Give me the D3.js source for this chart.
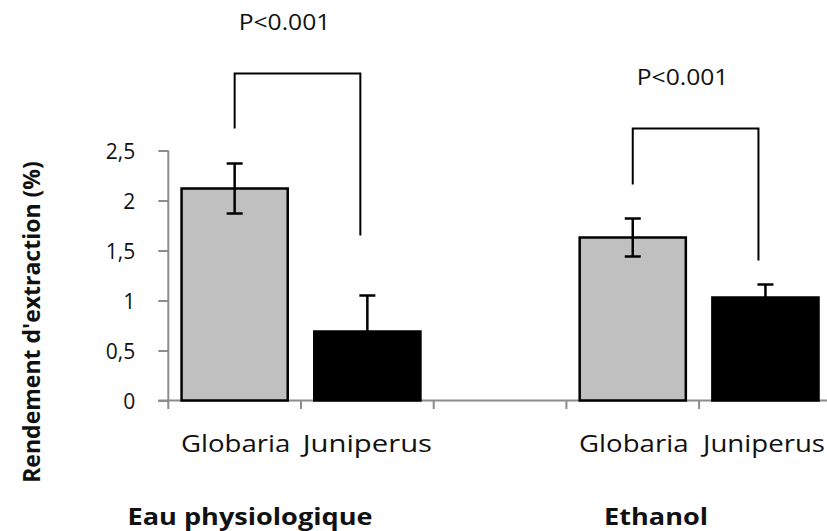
<!DOCTYPE html>
<html>
<head>
<meta charset="utf-8">
<script src="https://cdn.jsdelivr.net/npm/d3@7"></script>
<style>
  html, body { margin: 0; padding: 0; background: #fff; }
  svg { display: block; }
  text { font-family: "Open Sans", "Noto Sans", sans-serif; fill: #111; }
</style>
</head>
<body>
<svg id="chart" width="827" height="531"></svg>
<script>
// Extraction yield by solvent and plant
const groups = ["Eau physiologique", "Ethanol"];
const plants = ["Globaria", "Juniperus"];
const yieldMeans = [[2.12, 0.69], [1.63, 1.03]];   // %
const yieldErrors = [[0.25, 0.36], [0.19, 0.13]];  // %
const yTicks = [0, 0.5, 1, 1.5, 2, 2.5];
const yTickLabels = ["0", "0,5", "1", "1,5", "2", "2,5"];
const yTitle = "Rendement d'extraction (%)";
// significance brackets: group, top level, left leg end, right leg end
const bracketGroups = [0, 1];
const bracketTop = [3.27, 2.72];
const bracketLeftEnd = [2.72, 2.16];
const bracketRightEnd = [1.65, 1.40];
const bracketLabels = ["P<0.001", "P<0.001"];

const svg = d3.select("#chart");
const W = 827, H = 531;
const slotsPerGroup = 3;
const nSlots = 6;

const x = d3.scaleBand()
  .domain(d3.range(nSlots))
  .range([168.3, 168.3 + 6 * 132.7])
  .paddingInner(0.2)
  .paddingOuter(0.1);
const y = d3.scaleLinear().domain([0, 2.5]).range([400.5, 150.5]);

const slot = (g, p) => g * slotsPerGroup + p;
const cx = (g, p) => x(slot(g, p)) + x.bandwidth() / 2;

const axisColor = "#8c8c8c";
const hStretch = (sx) => `scale(${sx},1)`;

// y axis
const yAxis = svg.append("g").attr("transform", `translate(${x.range()[0]},0)`)
  .call(d3.axisLeft(y).tickValues(yTicks).tickSize(10).tickPadding(23)
    .tickFormat((d, i) => yTickLabels[i]));
yAxis.select(".domain").remove();
yAxis.append("line").attr("x1", 0).attr("x2", 0)
  .attr("y1", y(2.5)).attr("y2", y(0) + 8.5)
  .attr("stroke", axisColor).attr("stroke-width", 2);
yAxis.selectAll(".tick line").attr("stroke", axisColor).attr("stroke-width", 2);
yAxis.selectAll(".tick text")
  .style("font-size", "21px").attr("fill", "#111")
  .attr("dy", "0.36em");

// x axis line and slot ticks
const xAxisG = svg.append("g");
xAxisG.append("line")
  .attr("x1", x.range()[0] - 10).attr("x2", W)
  .attr("y1", y(0)).attr("y2", y(0))
  .attr("stroke", axisColor).attr("stroke-width", 2);
const step = x.step();
xAxisG.selectAll("line.tk").data(d3.range(1, nSlots)).join("line")
  .attr("class", "tk")
  .attr("x1", d => x.range()[0] + d * step).attr("x2", d => x.range()[0] + d * step)
  .attr("y1", y(0)).attr("y2", y(0) + 8.5)
  .attr("stroke", axisColor).attr("stroke-width", 2);

// bars
const barData = [];
groups.forEach((g, gi) => plants.forEach((p, pi) => {
  barData.push({ gi, pi, v: yieldMeans[gi][pi], e: yieldErrors[gi][pi] });
}));
const barFill = ["#c0c0c0", "#000000"];
svg.append("g").selectAll("rect").data(barData).join("rect")
  .attr("x", d => x(slot(d.gi, d.pi)))
  .attr("width", x.bandwidth())
  .attr("y", d => y(d.v))
  .attr("height", d => y(0) - y(d.v))
  .attr("fill", d => barFill[d.pi])
  .attr("stroke", "#000").attr("stroke-width", 2.5);

// error bars
const eb = svg.append("g").attr("stroke", "#000").attr("stroke-width", 2.5);
barData.forEach(d => {
  const c = cx(d.gi, d.pi);
  eb.append("line").attr("x1", c).attr("x2", c).attr("y1", y(d.v + d.e)).attr("y2", y(d.v - d.e));
  eb.append("line").attr("x1", c - 8).attr("x2", c + 8).attr("y1", y(d.v + d.e)).attr("y2", y(d.v + d.e));
  eb.append("line").attr("x1", c - 8).attr("x2", c + 8).attr("y1", y(d.v - d.e)).attr("y2", y(d.v - d.e));
});

// significance brackets
const br = svg.append("g");
bracketGroups.forEach((g, i) => {
  const xl = cx(g, 0);
  const xr = cx(g, 1) - 7;
  br.append("path")
    .attr("d", `M${xl},${y(bracketLeftEnd[i])}V${y(bracketTop[i])}H${xr}V${y(bracketRightEnd[i])}`)
    .attr("fill", "none").attr("stroke", "#000").attr("stroke-width", 2);
  br.append("text")
    .attr("transform", `translate(${(xl + xr) / 2 - 13},${y(bracketTop[i]) - 44}) ${hStretch(1.12)}`)
    .attr("text-anchor", "middle")
    .style("font-size", "22px")
    .text(bracketLabels[i]);
});

// plant labels under each bar; a label running past the right edge is
// narrowed and nudged so that it stays inside the drawing
const labelStretch = [1.15, 1.22];
const xl = svg.append("g");
barData.forEach(d => {
  const t = xl.append("text")
    .attr("text-anchor", "middle")
    .style("font-size", "24px")
    .text(plants[d.pi]);
  let sx = labelStretch[d.pi];
  let c = cx(d.gi, d.pi) + (d.pi ? 0 : 1);
  const w = t.node().getComputedTextLength();
  const maxRight = W - 2;
  if (c + (w * sx) / 2 > maxRight) {
    sx = Math.min(sx, 1.15);
    c = Math.min(c, maxRight - (w * sx) / 2);
  }
  t.attr("transform", `translate(${c},452) ${hStretch(sx)}`);
});

// solvent group labels
groups.forEach((g, gi) => {
  const c = (cx(gi, 0) + cx(gi, 1)) / 2;
  svg.append("text")
    .attr("transform", `translate(${c - 51 + gi * 8},525) ${hStretch(1.13)}`)
    .attr("text-anchor", "middle")
    .style("font-size", "24px").style("font-weight", "bold")
    .text(g);
});

// y axis title
svg.append("text")
  .attr("transform", "translate(40,322) rotate(-90)")
  .attr("text-anchor", "middle")
  .style("font-size", "23px").style("font-weight", "bold")
  .text(yTitle);
</script>
</body>
</html>
